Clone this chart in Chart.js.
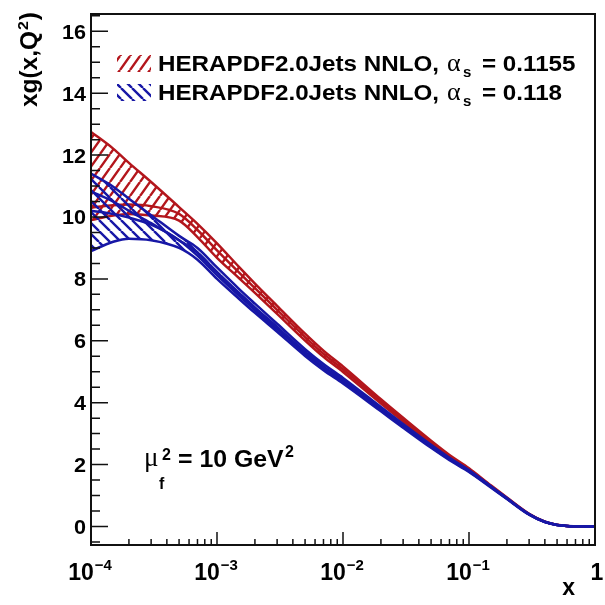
<!DOCTYPE html>
<html><head><meta charset="utf-8">
<script src="https://cdn.jsdelivr.net/npm/chart.js@4/dist/chart.umd.min.js"></script>
<style>html,body{margin:0;padding:0;background:#fff;overflow:hidden}</style>
</head><body>
<canvas id="c" width="605" height="605"></canvas>
<script>
// ---- data ----
const xValues = [1e-4,1.5e-4,2e-4,3e-4,5e-4,7e-4,1e-3,1.5e-3,2e-3,3e-3,5e-3,7e-3,1e-2,2e-2,3e-2,5e-2,7e-2,0.1,0.15,0.2,0.3,0.4,0.5,0.6,0.7,0.8,0.9,1];
const redUpper  = [12.75,12.21,11.75,11.13,10.32,9.78,9.15,8.38,7.85,7.13,6.23,5.68,5.17,4.11,3.51,2.77,2.31,1.88,1.32,0.935,0.41,0.155,0.052,0.016,0.005,0.002,0.001,0];
const redLower  = [9.9,10.05,10.1,10.05,9.88,9.35,8.68,8.02,7.55,6.87,6.01,5.48,4.99,3.97,3.39,2.67,2.23,1.82,1.28,0.905,0.39,0.145,0.048,0.014,0.005,0.002,0.001,0];
const redInner  = [10.3,10.38,10.4,10.35,10.1,9.58,8.92,8.2,7.7,7.0,6.12,5.58,5.08,4.04,3.45,2.72,2.27,1.85,1.3,0.92,0.4,0.15,0.05,0.015,0.005,0.002,0.001,0];
const blueUpper = [11.4,10.98,10.59,10.06,9.39,9.0,8.37,7.67,7.2,6.55,5.73,5.25,4.8,3.86,3.31,2.64,2.22,1.82,1.29,0.915,0.4,0.15,0.05,0.015,0.005,0.002,0.001,0];
const blueLower = [8.9,9.2,9.3,9.25,9.0,8.62,8.0,7.35,6.9,6.29,5.51,5.05,4.62,3.72,3.19,2.54,2.14,1.76,1.25,0.885,0.38,0.14,0.046,0.013,0.005,0.002,0.001,0];
const blueInnerA = [10.83,10.5,10.2,9.8,9.25,8.85,8.22,7.55,7.08,6.45,5.64,5.17,4.73,3.81,3.26,2.6,2.19,1.8,1.28,0.905,0.39,0.146,0.048,0.014,0.005,0.002,0.001,0];
const blueInnerB = [10.2,10.1,9.98,9.75,9.25,8.75,8.12,7.45,7.0,6.38,5.58,5.12,4.68,3.77,3.23,2.57,2.17,1.78,1.27,0.895,0.385,0.143,0.047,0.014,0.005,0.002,0.001,0];
const seriesNames = ['HERAPDF2.0Jets NNLO,','HERAPDF2.0Jets NNLO,'];
const alphaValues = ['= 0.1155','= 0.118'];
const xTickValues = [1e-4,1e-3,1e-2,1e-1,1];
const xTickBases = ['10','10','10','10','1'];
const xTickExps = ['\u22124','\u22123','\u22122','\u22121',''];
const yTickValues = [0,2,4,6,8,10,12,14,16];
const yTickLabels = ['0','2','4','6','8','10','12','14','16'];

const RED = '#b3161c';
const BLUE = '#1717a6';

function pts(ys){ return ys.map((y,i)=>({x:xValues[i], y:y})); }

function makeHatch(color, dir, w, h, lw){
  const c = document.createElement('canvas'); c.width = w; c.height = h;
  const g = c.getContext('2d');
  g.strokeStyle = color; g.lineWidth = lw;
  g.beginPath();
  for (let k=-1;k<=1;k++){
    if (dir === '/') { g.moveTo(k*w, h); g.lineTo(k*w+w, 0); }
    else { g.moveTo(k*w, 0); g.lineTo(k*w+w, h); }
  }
  g.stroke();
  return g.createPattern(c, 'repeat');
}
const redHatch = makeHatch(RED, '/', 10, 14, 2.4);
const blueHatch = makeHatch(BLUE, '\\', 11, 11, 2.4);

function line(data, color, fill, bg){
  return { data: pts(data), borderColor: color, borderWidth: 2.5, pointRadius: 0,
    cubicInterpolationMode: 'monotone', fill: fill, backgroundColor: bg || 'transparent' };
}

function txt(ctx, s, x, y, font, sx, align){
  ctx.save();
  ctx.font = font;
  ctx.translate(x, y);
  ctx.scale(sx || 1, 1);
  ctx.textAlign = align || 'left';
  ctx.textBaseline = 'alphabetic';
  ctx.fillText(s, 0, 0);
  ctx.restore();
}
function tw(ctx, s, font){ ctx.save(); ctx.font = font; const w = ctx.measureText(s).width; ctx.restore(); return w; }

const decor = {
  id: 'decor',
  afterDatasetsDraw(chart){
    const ctx = chart.ctx, a = chart.chartArea, xs = chart.scales.x, ys = chart.scales.y;
    ctx.save();
    ctx.fillStyle = '#000'; ctx.strokeStyle = '#111';
    // frame
    ctx.lineWidth = 2;
    ctx.strokeRect(a.left, a.top, a.right - a.left, a.bottom - a.top);
    // x ticks
    ctx.lineWidth = 1.5;
    ctx.beginPath();
    for (let d=-4; d<=0; d++){
      const p = xs.getPixelForValue(Math.pow(10,d));
      ctx.moveTo(p, a.bottom); ctx.lineTo(p, a.bottom - 13);
      if (d<0) for (let k=2;k<=9;k++){
        const q = xs.getPixelForValue(k*Math.pow(10,d));
        ctx.moveTo(q, a.bottom); ctx.lineTo(q, a.bottom - 6);
      }
    }
    // y ticks
    for (let v=-0.5; v<=16.5; v+=0.5){
      const p = ys.getPixelForValue(v);
      const L = (Math.abs(v % 2) < 1e-9) ? 17 : 9;
      ctx.moveTo(a.left, p); ctx.lineTo(a.left + L, p);
    }
    ctx.stroke();
    // y tick labels
    yTickValues.forEach((v,i)=>{
      const p = ys.getPixelForValue(v);
      txt(ctx, yTickLabels[i], 86, p + 7.5, 'bold 20px "Liberation Sans", Arial, sans-serif', 1.08, 'right');
    });
    // x tick labels
    const fb = 'bold 23px "Liberation Sans", Arial, sans-serif';
    const fe = 'bold 15px "Liberation Sans", Arial, sans-serif';
    xTickValues.forEach((v,i)=>{
      const p = xs.getPixelForValue(v);
      const wb = tw(ctx, xTickBases[i], fb);
      const we = xTickExps[i] ? tw(ctx, xTickExps[i], fe) + 1 : 0;
      const x0 = p - (wb + we)/2 - (xTickExps[i] ? 1 : -2);
      txt(ctx, xTickBases[i], x0, 580, fb, 1, 'left');
      if (xTickExps[i]) txt(ctx, xTickExps[i], x0 + wb + 1, 570, fe, 1, 'left');
    });
    // axis titles
    txt(ctx, 'x', 575, 595, 'bold 23px "Liberation Sans", Arial, sans-serif', 1, 'right');
    ctx.save();
    ctx.translate(37, 107);
    ctx.rotate(-Math.PI/2);
    ctx.scale(1.06, 1);
    const ft = 'bold 23px "Liberation Sans", Arial, sans-serif';
    const fts = 'bold 15px "Liberation Sans", Arial, sans-serif';
    ctx.font = ft; ctx.fillText('xg(x,Q', 0, 0);
    let w1 = ctx.measureText('xg(x,Q').width;
    ctx.font = fts; ctx.fillText('2', w1 + 1, -9);
    let w2 = ctx.measureText('2').width;
    ctx.font = ft; ctx.fillText(')', w1 + w2 + 2, 0);
    ctx.restore();
    // legend
    const lf = 'bold 22px "Liberation Sans", Arial, sans-serif';
    [[RED, redHatch, 55, 71],[BLUE, blueHatch, 84, 100]].forEach((e, i)=>{
      ctx.save();
      ctx.fillStyle = e[1];
      ctx.fillRect(117, e[2], 34, 17);
      ctx.restore();
      txt(ctx, seriesNames[i], 158, e[3], lf, 1.1, 'left');
      txt(ctx, '\u03b1', 447, e[3], '26px "Liberation Serif", "DejaVu Serif", serif', 1, 'left');
      txt(ctx, 's', 463, e[3] + 6, 'bold 15px "Liberation Sans", Arial, sans-serif', 1, 'left');
      txt(ctx, alphaValues[i], 482, e[3], lf, 1.1, 'left');
    });
    // scale annotation
    txt(ctx, '\u03bc', 144, 466, '27px "Liberation Serif", "DejaVu Serif", serif', 1, 'left');
    txt(ctx, 'f', 159, 489, 'bold 16px "Liberation Sans", Arial, sans-serif', 1, 'left');
    txt(ctx, '2', 162, 460, 'bold 16px "Liberation Sans", Arial, sans-serif', 1, 'left');
    txt(ctx, '= 10 GeV', 178, 467, 'bold 23px "Liberation Sans", Arial, sans-serif', 1.08, 'left');
    txt(ctx, '2', 285, 457, 'bold 16px "Liberation Sans", Arial, sans-serif', 1, 'left');
    ctx.restore();
  }
};

new Chart(document.getElementById('c'), {
  type: 'line',
  data: { datasets: [
    line(blueUpper, BLUE, '+1', blueHatch),
    line(blueLower, BLUE, false),
    line(blueInnerA, BLUE, false),
    line(blueInnerB, BLUE, false),
    line(redUpper, RED, '+1', redHatch),
    line(redLower, RED, false),
    line(redInner, RED, false)
  ]},
  options: {
    responsive: false, animation: false, devicePixelRatio: 1,
    layout: { padding: { left: 91, right: 10, top: 14, bottom: 60 } },
    plugins: { legend: { display: false }, tooltip: { enabled: false } },
    scales: {
      x: { type: 'logarithmic', min: 1e-4, max: 1, grid: { display: false }, border: { display: false },
           ticks: { display: false }, afterFit: s => { s.height = 0; } },
      y: { type: 'linear', min: -0.6, max: 16.56, grid: { display: false }, border: { display: false },
           ticks: { display: false }, afterFit: s => { s.width = 0; } }
    }
  },
  plugins: [decor]
});
</script>
</body></html>
